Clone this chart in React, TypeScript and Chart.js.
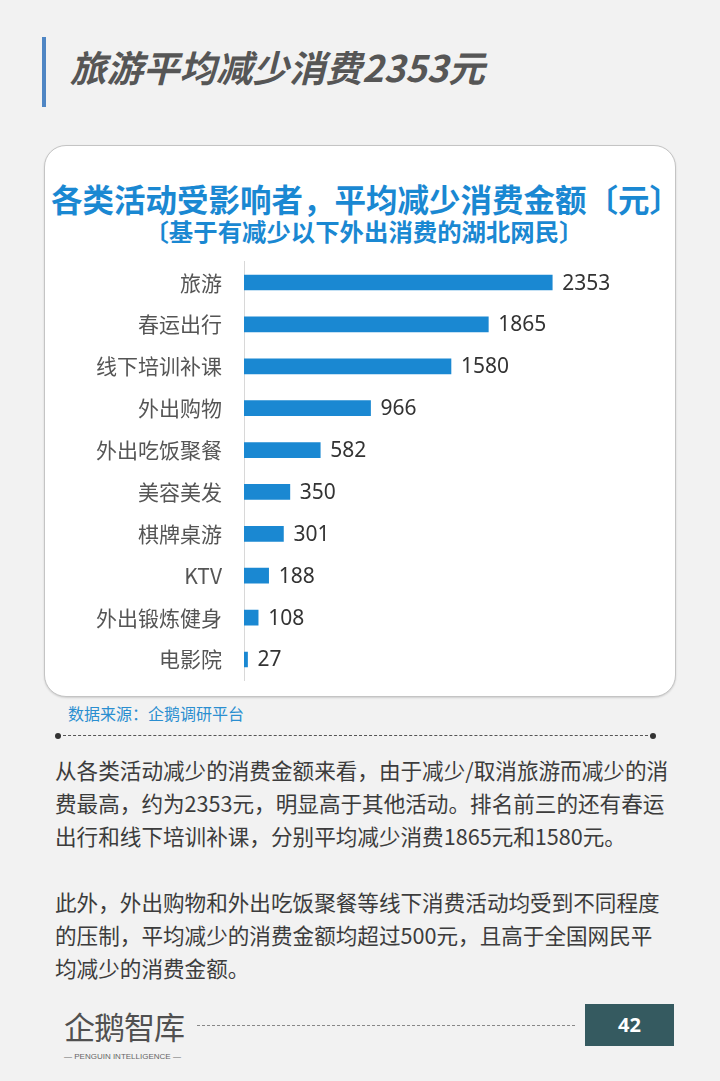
import React, { useEffect, useRef } from "react";
import { Chart, registerables } from "chart.js";

Chart.register(...registerables);

const categories = ["旅游", "春运出行", "线下培训补课", "外出购物", "外出吃饭聚餐", "美容美发", "棋牌桌游", "KTV", "外出锻炼健身", "电影院"];
const values = [2353, 1865, 1580, 966, 582, 350, 301, 188, 108, 27];

const pageTitle = "旅游平均减少消费2353元";
const chartTitle = "各类活动受影响者，平均减少消费金额〔元〕";
const chartSubtitle = "〔基于有减少以下外出消费的湖北网民〕";
const sourceText = "数据来源：企鹅调研平台";
const paragraph1 = [
  "从各类活动减少的消费金额来看，由于减少/取消旅游而减少的消",
  "费最高，约为2353元，明显高于其他活动。排名前三的还有春运",
  "出行和线下培训补课，分别平均减少消费1865元和1580元。",
];
const paragraph2 = [
  "此外，外出购物和外出吃饭聚餐等线下消费活动均受到不同程度",
  "的压制，平均减少的消费金额均超过500元，且高于全国网民平",
  "均减少的消费金额。",
];
const pageNumber = "42";

const CJK = '"Noto Sans CJK SC", "Noto Sans", sans-serif';
const BLUE = "#1a88d2";

const valueLabelPlugin = {
  id: "valueLabels",
  afterDatasetsDraw(chart: any) {
    const ctx = chart.ctx;
    const meta = chart.getDatasetMeta(0);
    ctx.save();
    ctx.font = '21px "Noto Sans", "Open Sans", sans-serif';
    ctx.fillStyle = "#333333";
    ctx.textAlign = "left";
    ctx.textBaseline = "middle";
    meta.data.forEach((bar: any, i: number) => {
      ctx.fillText(String(chart.data.datasets[0].data[i]), bar.x + 10, bar.y + 1);
    });
    ctx.restore();
  },
};

function BarChart() {
  const ref = useRef<HTMLCanvasElement | null>(null);
  useEffect(() => {
    if (!ref.current) return;
    const chart = new Chart(ref.current, {
      type: "bar",
      data: {
        labels: categories,
        datasets: [
          {
            data: values,
            backgroundColor: BLUE,
            barThickness: 15,
          },
        ],
      },
      options: {
        indexAxis: "y",
        responsive: false,
        animation: false,
        layout: { padding: { left: 0, right: 39, top: 0, bottom: 0 } },
        plugins: {
          legend: { display: false },
          tooltip: { enabled: false },
        },
        scales: {
          x: { display: false, min: 0, max: 3000 },
          y: {
            afterFit: (scale: any) => {
              scale.width = 200;
            },
            grid: { display: true, drawOnChartArea: false, drawTicks: true, tickLength: 22, color: "rgba(0,0,0,0)" },
            border: { display: true, color: "#d8d8d8", width: 1 },
            ticks: {
              padding: 0,
              color: "#555555",
              font: { family: CJK, size: 21 },
            },
          },
        },
      },
      plugins: [valueLabelPlugin],
    });
    return () => chart.destroy();
  }, []);
  return <canvas ref={ref} width={632} height={444} style={{ position: "absolute", left: 44, top: 249, width: 632, height: 444 }} />;
}

export default function App() {
  const abs = (s: React.CSSProperties): React.CSSProperties => ({ position: "absolute", ...s });
  return (
    <div style={{ position: "absolute", left: 0, top: 0, width: 720, height: 1081, background: "#f2f2f2", overflow: "hidden", fontFamily: CJK }}>
      <div style={abs({ left: 42, top: 37, width: 4, height: 70, background: "#4f86c4" })} />
      <div style={abs({ left: 70, top: 46, fontSize: 36.5, lineHeight: "42px", fontWeight: 700, fontStyle: "italic", color: "#565656", whiteSpace: "nowrap" })}>{pageTitle}</div>

      <div style={abs({ left: 44, top: 145, width: 630, height: 550, background: "#ffffff", border: "1px solid #c4c4c4", borderRadius: 22, boxShadow: "0 1px 2px rgba(0,0,0,0.15)" })} />
      <div style={abs({ left: 50, top: 180, width: 632, textAlign: "center", fontSize: 31.5, lineHeight: "36px", fontWeight: 700, color: BLUE, whiteSpace: "nowrap" })}>{chartTitle}</div>
      <div style={abs({ left: 48, top: 217, width: 632, textAlign: "center", fontSize: 24.4, lineHeight: "28px", fontWeight: 700, color: BLUE, whiteSpace: "nowrap" })}>{chartSubtitle}</div>

      <BarChart />

      <div style={abs({ left: 68, top: 702, fontSize: 16, lineHeight: "22px", color: "#2a8ed0", whiteSpace: "nowrap" })}>{sourceText}</div>

      <div style={abs({ left: 58, top: 735, width: 595, height: 0, borderTop: "1px dashed #555" })} />
      <div style={abs({ left: 55, top: 733, width: 6, height: 6, borderRadius: 3, background: "#333" })} />
      <div style={abs({ left: 650, top: 733, width: 6, height: 6, borderRadius: 3, background: "#333" })} />

      {paragraph1.map((t, i) => (
        <div key={"a" + i} style={abs({ left: 55, top: 753 + i * 33, fontSize: 21.6, lineHeight: "33px", color: "#3c3c3c", whiteSpace: "nowrap" })}>{t}</div>
      ))}
      {paragraph2.map((t, i) => (
        <div key={"b" + i} style={abs({ left: 55, top: 885 + i * 33, fontSize: 21.6, lineHeight: "33px", color: "#3c3c3c", whiteSpace: "nowrap" })}>{t}</div>
      ))}

      <div style={abs({ left: 64, top: 1006, fontSize: 31, lineHeight: "40px", color: "#505050", fontWeight: 400, letterSpacing: -1, whiteSpace: "nowrap" })}>企鹅智库</div>
      <div style={abs({ left: 64, top: 1051, fontSize: 8, lineHeight: "12px", color: "#666", whiteSpace: "nowrap", fontFamily: '"Liberation Sans", sans-serif' })}>— PENGUIN  INTELLIGENCE —</div>

      <div style={abs({ left: 197, top: 1025, width: 378, height: 0, borderTop: "1px dashed #888" })} />
      <div style={abs({ left: 585, top: 1004, width: 89, height: 42, background: "#355a60", color: "#ffffff", fontSize: 20, fontWeight: 700, lineHeight: "42px", textAlign: "center", fontFamily: '"Noto Sans", sans-serif' })}>{pageNumber}</div>
    </div>
  );
}
